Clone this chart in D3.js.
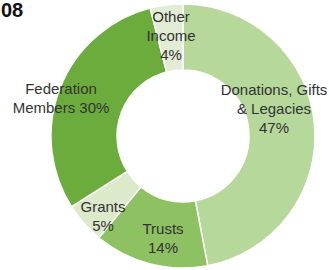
<!DOCTYPE html>
<html><head><meta charset="utf-8">
<script src="https://cdn.jsdelivr.net/npm/d3@7"></script>
<style>html,body{margin:0;padding:0;background:#fff;overflow:hidden}</style>
</head><body>
<svg id="c" width="329" height="270"></svg>
<script>
const categories = ["Donations, Gifts & Legacies", "Trusts", "Grants", "Federation Members", "Other Income"];
const values = [47, 14, 5, 30, 4];
const labelLines = [["Donations, Gifts", "& Legacies", "47%"], ["Trusts", "14%"], ["Grants", "5%"], ["Federation", "Members 30%"], ["Other", "Income", "4%"]];
const colors = ["#b7d89b", "#8dc162", "#dce9cb", "#6bac3c", "#e2ecd4"];
const title = "08";

const svg = d3.select("#c");
const cx = 183, cy = 136, R = 132, r = 66;
const g = svg.append("g").attr("transform", `translate(${cx},${cy})`);
const pie = d3.pie().value(d => d).sort(null);
const arcs = pie(values);
const arc = d3.arc().innerRadius(r).outerRadius(R);
g.selectAll("path").data(arcs).join("path")
  .attr("d", arc).attr("fill", (d, i) => colors[i])
  .attr("stroke", "#fff").attr("stroke-width", 1.5);

// label layout (center of first line baseline, relative to chart centre)
const labelAt = [[91, -41], [-20, 98], [-80, 76], [-122, -42], [-12, -114]];
const lineH = 19;
labelAt.forEach((p, i) => {
  const t = g.append("text").attr("x", p[0]).attr("y", p[1])
    .attr("text-anchor", "middle").attr("font-family", "Liberation Sans, Arial, sans-serif")
    .attr("font-size", 15).attr("fill", "#333");
  labelLines[i].forEach((s, j) => t.append("tspan").attr("x", p[0]).attr("dy", j ? lineH : 0).text(s));
});

svg.append("text").attr("x", 1).attr("y", 17).attr("font-family", "Liberation Sans, Arial, sans-serif")
  .attr("font-weight", "bold").attr("font-size", 20).attr("fill", "#111").text(title);
</script>
</body></html>
